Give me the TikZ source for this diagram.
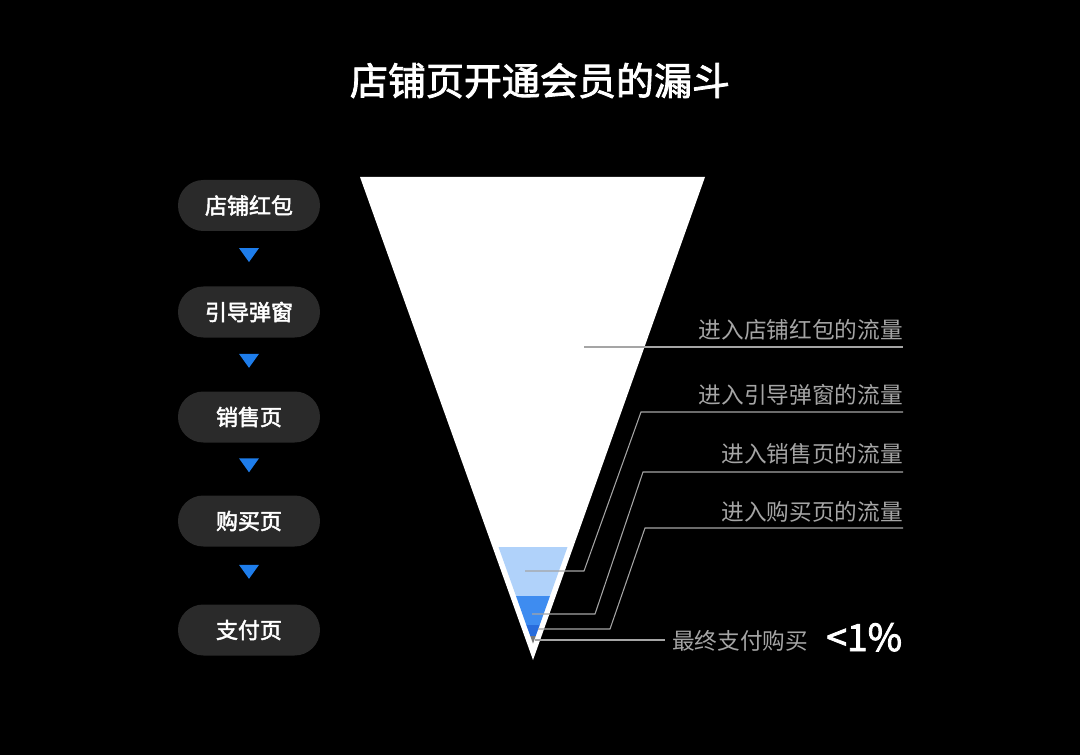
\documentclass[tikz,border=0pt]{standalone}
\usepackage{fontspec}
\setmainfont{Noto Sans CJK SC}
\newfontfamily\medfont{Noto Sans CJK SC}[FakeBold=2.2]
\usetikzlibrary{calc}
\definecolor{pillgray}{RGB}{42,42,42}
\definecolor{arrowblue}{RGB}{30,125,235}
\definecolor{lightblue}{RGB}{176,210,250}
\definecolor{midblue}{RGB}{62,140,240}
\definecolor{darkblue}{RGB}{40,108,220}
\definecolor{tipgray}{RGB}{120,120,120}
\definecolor{leadgray}{RGB}{165,165,165}
\tikzset{
  pill/.style={fill=pillgray, rounded corners=19pt, minimum width=106.5pt, minimum height=38.25pt,
    text=white, font=\medfont\fontsize{16.5}{18}\selectfont, inner sep=0pt},
  downtri/.style={fill=arrowblue},
  lbl/.style={text=leadgray, font=\fontsize{17}{19}\selectfont, inner sep=0pt, anchor=base east},
  leader/.style={draw=leadgray, line width=0.8pt},
}
\begin{document}
\begin{tikzpicture}[x=0.75pt,y=-0.75pt]
\fill[black] (0,0) rectangle (1080,755);
\useasboundingbox (0,0) rectangle (1080,755);

% title
\node[text=white, font=\medfont\fontsize{28.5}{30}\selectfont, inner sep=0pt, anchor=base] (title) at (540,95) {店铺页开通会员的漏斗};

% left pills
\node[pill] (p1) at (249,205.5) {店铺红包};
\node[pill] (p2) at (249,312) {引导弹窗};
\node[pill] (p3) at (249,417) {销售页};
\node[pill] (p4) at (249,521) {购买页};
\node[pill] (p5) at (249,630) {支付页};
\foreach \a/\b in {p1/p2,p2/p3,p3/p4,p4/p5}{
  \coordinate (m) at ($(\a.south)!0.5!(\b.north)$);
  \fill[downtri] (m) +(-7.5pt,8pt) -- +(7.5pt,8pt) -- +(0pt,-2.5pt) -- cycle;
}

% funnel
\fill[white] (360,177) -- (705,177) -- (533,660) -- cycle;
\fill[lightblue] (498.5,547) -- (567.5,547) -- (550,596) -- (516,596) -- cycle;
\fill[midblue] (516,596) -- (550,596) -- (539.7,625) -- (526.3,625) -- cycle;
\fill[darkblue] (526.3,625) -- (539.7,625) -- (535.7,636) -- (530.3,636) -- cycle;
\fill[tipgray] (530.3,636) -- (535.7,636) -- (533,643.6) -- cycle;

% labels
\node[lbl] (l1) at (903,338) {进入店铺红包的流量};
\node[lbl] (l2) at (903,403) {进入引导弹窗的流量};
\node[lbl] (l3) at (903,462) {进入销售页的流量};
\node[lbl] (l4) at (903,520) {进入购买页的流量};
\node[lbl, anchor=base west] (l5) at (672,649) {最终支付购买};
\node[text=white, font=\medfont\fontsize{28}{30}\selectfont, inner sep=0pt, anchor=base west] (pct) at (826,651) {<1\%};

% leader lines
\coordinate (s1) at (584,347);
\coordinate (e1) at (903,347);
\coordinate (s2) at (525,571); \coordinate (b2) at (584,571); \coordinate (c2) at (641,412); \coordinate (e2) at (903,412);
\coordinate (s3) at (532,614); \coordinate (b3) at (595,614); \coordinate (c3) at (643,472); \coordinate (e3) at (903,472);
\coordinate (s4) at (538,629); \coordinate (b4) at (610,629); \coordinate (c4) at (645,528); \coordinate (e4) at (903,528);
\coordinate (s5) at (535,640); \coordinate (e5) at (665,640);
\draw[leader] (s1) -- (e1);
\draw[leader] (s2) -- (b2) -- (c2) -- (e2);
\draw[leader] (s3) -- (b3) -- (c3) -- (e3);
\draw[leader] (s4) -- (b4) -- (c4) -- (e4);
\draw[leader] (s5) -- (e5);
\end{tikzpicture}
\end{document}
